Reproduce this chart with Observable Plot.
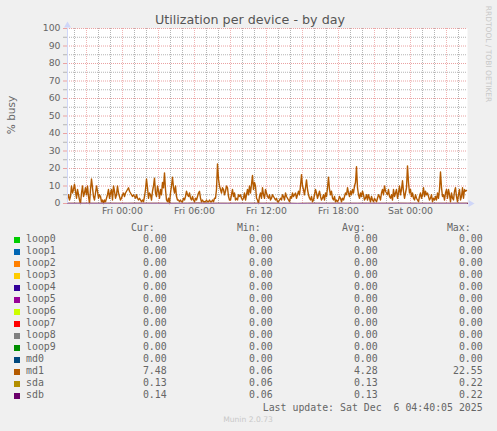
<!DOCTYPE html>
<html><head><meta charset="utf-8">
<script src="https://cdn.jsdelivr.net/npm/d3@7"></script>
<script src="https://cdn.jsdelivr.net/npm/@observablehq/plot@0.6"></script>
<style>
html,body{margin:0;padding:0;background:#F0F0F0;}
#root{position:relative;width:497px;height:431px;background:#F0F0F0;overflow:hidden;font-family:"DejaVu Sans",sans-serif;color:#666;}
#chart{position:absolute;left:0;top:0;}
.t{position:absolute;white-space:pre;}
.mono{font-family:"DejaVu Sans Mono",monospace;font-size:9.9px;line-height:12px;height:12px;}
.sq{position:absolute;width:6px;height:6px;}
</style></head><body><div id="root"><div id="chart"></div></div>
<script>
// ---- data ----
const title = "Utilization per device - by day";
const yLabel = "% busy";
const xTickLabels = ["Fri 00:00","Fri 06:00","Fri 12:00","Fri 18:00","Sat 00:00"];
const xTickTimes = ["2025-12-05T00:00Z","2025-12-05T06:00Z","2025-12-05T12:00Z","2025-12-05T18:00Z","2025-12-06T00:00Z"];
const yTicks = [0,10,20,30,40,50,60,70,80,90,100];
const seriesNames = ["loop0","loop1","loop2","loop3","loop4","loop5","loop6","loop7","loop8","loop9","md0","md1","sda","sdb"];
const seriesColors = ["#00CC00","#0066B3","#FF8000","#FFCC00","#330099","#990099","#CCFF00","#FF0000","#808080","#008F00","#00487D","#B35A00","#B38F00","#6B006B"];
const curVals = [0,0,0,0,0,0,0,0,0,0,0,7.48,0.13,0.14];
const minVals = [0,0,0,0,0,0,0,0,0,0,0,0.06,0.06,0.06];
const avgVals = [0,0,0,0,0,0,0,0,0,0,0,4.28,0.13,0.13];
const maxVals = [0,0,0,0,0,0,0,0,0,0,0,22.55,0.22,0.22];
const lastUpdate = "Last update: Sat Dec  6 04:40:05 2025";
const startTime = "2025-12-04T19:25:00Z";
const endTime = "2025-12-06T04:45:00Z";
// md1, 5-minute samples
const md1 = [
3,5,2,4,10,6,8,11,7,3,8,5,2,0,6,10,4,6,9,5,
10,4,0,8,14,9,4,2,6,10,7,3,5,4,1,2,0,2,1,3,
5,8,3,6,8,2,10,7,3,5,10,6,4,2,3,5,6,4,6,7,
8,9,7,6,5,4,5,4,3,5,3,2,3,2,1,2,1,4,8,14,
9,3,6,5,2,7,10,14.5,6,4,10,7,3,8,5,12,9,17.5,8,2,
1,3,0,6,10,15,9,6,10,4,2,2,1,2,1,1,3,2,4,7,
5,4,6,3,2,4,2,1,3,2,4,6,7,3,1,2,1,1,1,2,
1,1,2,1,1,2,1,3,3,8,22.55,14,10,8,6,9,8,5,7,10,
9,4,2,2,5,8,4,6,2,3,2,5,4,5,3,2,3,6,2,5,
8,5,10,6,11,16,8,12,10,3,2,0,4,6,3,9,5,3,8,6,
4,3,5,2,3,5,4,3,2,3,1,1,2,3,2,5,4,2,6,4,
3,2,1,4,3,6,4,5,6,3,5,7,5,10,16.5,10,8,5,9,13.5,
8,5,3,2,4,1,2,5,8,6,3,5,7,4,2,3,5,2,6,4,
9,15,8,5,7,3,2,4,1,2,1,2,4,3,1,3,2,4,6,5,
9,6,4,7,5,8,6,10,12,21,9,5,3,6,4,7,5,2,3,5,
2,5,3,1,4,2,1,3,2,1,3,5,4,2,6,8,5,10,7,6,
5,8,4,3,5,2,8,4,6,8,3,6,10,5,8,13,7,3,6,9,
21.5,12,6,8,4,6,3,2,5,3,2,1,4,6,3,5,9,4,7,5,
6,4,2,3,5,1,3,2,4,2,6,3,8,18,9,4,5,2,6,8,
3,8,5,1,6,3,2,7,9,4,1,5,8,2,4,9,3,8,7,7.48
];
// sda / sdb, 50-minute samples
const sda = [0.12,0.14,0.13,0.11,0.15,0.13,0.12,0.16,0.14,0.13,0.10,0.12,0.14,0.22,0.13,0.12,0.11,0.13,0.15,0.12,0.14,0.13,0.12,0.06,0.13,0.14,0.12,0.15,0.13,0.11,0.14,0.12,0.13,0.16,0.12,0.14,0.11,0.13,0.12,0.14,0.13];
const sdb = [0.13,0.12,0.14,0.12,0.15,0.12,0.13,0.15,0.13,0.14,0.11,0.12,0.13,0.22,0.12,0.13,0.12,0.14,0.14,0.12,0.13,0.12,0.13,0.06,0.12,0.13,0.13,0.14,0.12,0.12,0.13,0.13,0.12,0.15,0.13,0.13,0.12,0.14,0.12,0.13,0.14];

// ---- build ----
const t0 = new Date(startTime), t1 = new Date(endTime);
const md1Data = md1.map((v,i)=>({time:new Date(+t0 + i*300000), value:v}));
const sdaData = sda.map((v,i)=>({time:new Date(+t0 + i*3000000), value:v}));
const sdbData = sdb.map((v,i)=>({time:new Date(+t0 + i*3000000), value:v}));
const tickDates = xTickTimes.map(s=>new Date(s));
const hours = d3.utcHour.range(t0, t1);
const majorX = hours.filter(d=>d.getUTCHours()%3===0);
const minorX = hours.filter(d=>d.getUTCHours()%3!==0);
const majorY = d3.range(0,101,10);
const minorY = d3.range(5,100,10);
const gridGray = "#b4b4b4";
const gridRed = "#f0b4b4";
const axisCol = "#CFD6F8";

const chart = Plot.plot({
  width: 497, height: 220,
  marginTop: 28, marginRight: 30, marginBottom: 17, marginLeft: 67,
  style: {background:"transparent", fontFamily:"DejaVu Sans", fontSize:"9.3px", color:"#666", overflow:"visible"},
  x: {type:"utc", domain:[t0, t1], label:null},
  y: {domain:[0,100], label:null},
  marks: [
    Plot.frame({fill:"#fff", stroke:null}),
    Plot.ruleX(minorX, {stroke:gridGray, strokeDasharray:"1,1"}),
    Plot.ruleY(minorY, {stroke:gridGray, strokeDasharray:"1,1"}),
    Plot.ruleX(majorX, {stroke:gridRed, strokeDasharray:"1,1"}),
    Plot.ruleY(majorY, {stroke:"#eaa2a2", strokeDasharray:"1,1"}),
    Plot.line(md1Data, {x:"time", y:"value", stroke:seriesColors[11], strokeWidth:1.4}),
    Plot.line(sdaData, {x:"time", y:"value", stroke:seriesColors[12], strokeWidth:1}),
    Plot.line(sdbData, {x:"time", y:"value", stroke:seriesColors[13], strokeWidth:1}),
    Plot.ruleX([t0], {stroke:axisCol}),
    Plot.ruleY([0], {stroke:axisCol, strokeOpacity:0.5}),
    Plot.axisY(minorY, {tickSize:4, tickPadding:3, stroke:gridGray, tickFormat:()=>"", label:null}),
    Plot.axisY(yTicks, {tickSize:4, tickPadding:3, stroke:"#eaa2a2", tickFormat:d=>String(d), label:null}),
    Plot.axisX(tickDates, {tickSize:0, tickPadding:3.5, tickFormat:d=>xTickLabels[tickDates.findIndex(t=>+t===+d)], label:null}),
    Plot.dot([{time:t0, value:100}], {x:"time", y:"value", symbol:"triangle", r:2.6, fill:axisCol, stroke:null, dy:-3}),
    Plot.dot([{time:t1, value:0}], {x:"time", y:"value", symbol:"triangle", r:2.6, fill:axisCol, stroke:null, dx:3, rotate:90})
  ]
});
document.getElementById("chart").appendChild(chart);

// ---- texts & legend ----
const root = document.getElementById("root");
function add(html, css, cls){ const d=document.createElement("div"); d.className = cls||"t"; d.textContent = html; d.style.cssText += css; root.appendChild(d); return d; }
add(title, "left:250px;top:20px;transform:translate(-50%,-50%);font-size:12.7px;line-height:1;color:#555;");
add(yLabel, "left:10.5px;top:115px;transform:translate(-50%,-50%) rotate(-90deg);font-size:10.5px;line-height:1;");
add("RRDTOOL / TOBI OETIKER", "left:487.5px;top:53.5px;transform:translate(-50%,-50%) rotate(90deg);font-size:7.5px;line-height:1;color:#c8c8c8;");
const colRight = [166.7, 272.7, 377.7, 482.7];
const headers = ["Cur:","Min:","Avg:","Max:"];
headers.forEach((h,j)=> add(h, `right:${497-colRight[j]+12}px;top:${228.3-6}px;`, "t mono"));
seriesNames.forEach((n,i)=>{
  const yc = 239.3 + 12*i;
  const sq = document.createElement("div"); sq.className="sq";
  sq.style.cssText += `left:14px;top:${yc-2.7}px;background:${seriesColors[i]};`;
  root.appendChild(sq);
  add(n, `left:26px;top:${yc-6}px;`, "t mono");
  [curVals,minVals,avgVals,maxVals].forEach((arr,j)=>{
    add(arr[i].toFixed(2), `right:${497-colRight[j]}px;top:${yc-6}px;`, "t mono");
  });
});
add(lastUpdate, `right:${497-482.7}px;top:${407.7-6}px;`, "t mono");
add("Munin 2.0.73", "left:248px;top:419.7px;transform:translate(-50%,-50%);font-size:7.6px;line-height:1;color:#c8c8c8;");
</script></body></html>
